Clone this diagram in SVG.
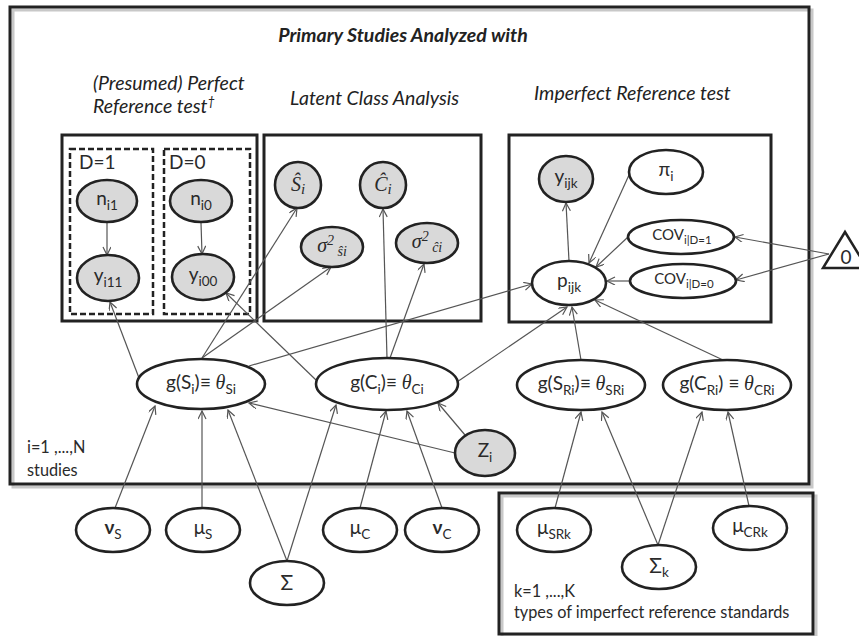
<svg xmlns="http://www.w3.org/2000/svg" width="859" height="636" viewBox="0 0 859 636">
<defs>
<marker id="ah" markerWidth="10" markerHeight="10" refX="9" refY="4" orient="auto" markerUnits="userSpaceOnUse">
<path d="M1,0 L9,4 L1,8" fill="none" stroke="#555" stroke-width="1.2"/>
</marker>
<style>
.box{fill:none;stroke:#222;stroke-width:3}
.shadow{fill:none;stroke:#c8c8c8;stroke-width:3}
.dash{fill:none;stroke:#222;stroke-width:2.5;stroke-dasharray:6,3}
.n{fill:#fff;stroke:#222;stroke-width:2.6}
.g{fill:#d9d9d9;stroke:#222;stroke-width:2.6}
.lbl{font-family:Lato,"Liberation Sans",sans-serif;font-size:19px;fill:#2a2a2a;text-anchor:middle}
.math{font-family:"Liberation Serif",serif;font-style:italic;font-size:20px;fill:#2a2a2a}
.sub{font-size:13.5px}
.head{font-family:Lato,"Liberation Sans",sans-serif;font-size:19.5px;font-style:italic;fill:#222}
.title{font-family:Lato,"Liberation Sans",sans-serif;font-size:19.5px;font-style:italic;font-weight:bold;fill:#222;text-anchor:middle}
.plain{font-family:Lato,"Liberation Sans",sans-serif;font-size:16.3px;fill:#2a2a2a}
.e{fill:none;stroke:#555;stroke-width:1.2;marker-end:url(#ah)}
</style>
</defs>
<rect width="859" height="636" fill="#fff"/>

<!-- plates -->
<g id="plate-studies">
<rect class="shadow" x="13" y="10" width="799" height="477"/>
<rect class="box" x="10" y="7" width="799" height="477" fill="#fff"/>
<text class="title" x="403" y="42">Primary Studies Analyzed with</text>
<text class="plain" x="27" y="453">i=1 ,...,N</text>
<text class="plain" x="27" y="476">studies</text>
</g>
<g id="plate-types">
<rect class="shadow" x="502" y="496" width="314" height="141"/>
<rect class="box" x="499" y="493" width="314" height="141" fill="#fff"/>
<text class="plain" x="514" y="597">k=1 ,...,K</text>
<text class="plain" x="514" y="618">types of imperfect reference standards</text>
</g>
<g id="box-perfect">
<text class="head" x="93" y="90">(Presumed) Perfect</text>
<text class="head" x="93" y="113">Reference test<tspan style="font-size:13px" dy="-7">†</tspan></text>
<rect class="box" x="62" y="135" width="195" height="186"/>
<rect class="dash" x="70" y="149" width="83" height="165"/>
<rect class="dash" x="164" y="149" width="86" height="165"/>
<text class="plain" x="79" y="169" style="font-size:19px">D=1</text>
<text class="plain" x="169" y="169" style="font-size:19px">D=0</text>
</g>
<g id="box-lca">
<text class="head" x="290" y="105">Latent Class Analysis</text>
<rect class="box" x="264" y="135" width="217" height="186"/>
</g>
<g id="box-imperfect">
<text class="head" x="534" y="100">Imperfect Reference test</text>
<rect class="box" x="509" y="135" width="262" height="187"/>
</g>

<!-- connectors -->
<g id="connectors">
<line class="e" x1="107" y1="223" x2="107" y2="255"/>
<line class="e" x1="201" y1="223" x2="202" y2="254"/>
<line class="e" x1="139" y1="378" x2="110" y2="302"/>
<line class="e" x1="202" y1="358" x2="297" y2="208"/>
<line class="e" x1="202" y1="358" x2="331" y2="267"/>
<line class="e" x1="249" y1="366" x2="532" y2="284"/>
<line class="e" x1="316" y1="380" x2="226" y2="293"/>
<line class="e" x1="387" y1="358" x2="383" y2="209"/>
<line class="e" x1="390" y1="358" x2="424" y2="264"/>
<line class="e" x1="457" y1="382" x2="567" y2="307"/>
<line class="e" x1="581" y1="360" x2="572" y2="307"/>
<line class="e" x1="723" y1="360" x2="595" y2="300"/>
<line class="e" x1="569" y1="261" x2="566" y2="203"/>
<line class="e" x1="629" y1="175" x2="589" y2="263"/>
<line class="e" x1="628" y1="237" x2="596" y2="267"/>
<line class="e" x1="629" y1="281" x2="607" y2="281"/>
<line class="e" x1="829" y1="254" x2="735" y2="237"/>
<line class="e" x1="829" y1="254" x2="736" y2="280"/>
<line class="e" x1="465" y1="435" x2="438" y2="403"/>
<line class="e" x1="455" y1="453" x2="249" y2="403"/>
<line class="e" x1="115" y1="508" x2="155" y2="406"/>
<line class="e" x1="202" y1="508" x2="202" y2="411"/>
<line class="e" x1="287" y1="561" x2="228" y2="410"/>
<line class="e" x1="287" y1="561" x2="336" y2="405"/>
<line class="e" x1="360" y1="508" x2="386" y2="411"/>
<line class="e" x1="442" y1="508" x2="407" y2="411"/>
<line class="e" x1="555" y1="508" x2="581" y2="412"/>
<line class="e" x1="658" y1="545" x2="602" y2="412"/>
<line class="e" x1="658" y1="545" x2="702" y2="412"/>
<line class="e" x1="749" y1="506" x2="728" y2="412"/>
</g>

<!-- nodes -->
<g id="n_i1"><ellipse class="g" cx="107" cy="201" rx="30" ry="21"/><text class="lbl" x="107" y="205">n<tspan class="sub" dy="5">i1</tspan></text></g>
<g id="y_i11"><ellipse class="g" cx="108" cy="278" rx="31" ry="23"/><text class="lbl" x="108" y="282">y<tspan class="sub" dy="5">i11</tspan></text></g>
<g id="n_i0"><ellipse class="g" cx="201" cy="201" rx="31" ry="21"/><text class="lbl" x="201" y="205">n<tspan class="sub" dy="5">i0</tspan></text></g>
<g id="y_i00"><ellipse class="g" cx="203" cy="277" rx="31" ry="23"/><text class="lbl" x="203" y="281">y<tspan class="sub" dy="5">i00</tspan></text></g>

<g id="S_hat"><circle class="g" cx="298" cy="185" r="23"/><text class="math" x="298" y="191" text-anchor="middle">Ŝ<tspan style="font-size:15px" dy="3">i</tspan></text></g>
<g id="C_hat"><circle class="g" cx="383" cy="185" r="23"/><text class="math" x="383" y="191" text-anchor="middle">Ĉ<tspan style="font-size:15px" dy="3">i</tspan></text></g>
<g id="sigma2_S"><ellipse class="g" cx="332" cy="247" rx="31" ry="20"/><text class="math" x="332" y="252" text-anchor="middle">σ<tspan style="font-size:14px" dy="-7">2</tspan><tspan style="font-size:14px" dy="11"> ŝi</tspan></text></g>
<g id="sigma2_C"><ellipse class="g" cx="427" cy="243" rx="31" ry="20"/><text class="math" x="427" y="248" text-anchor="middle">σ<tspan style="font-size:14px" dy="-7">2</tspan><tspan style="font-size:14px" dy="11"> ĉi</tspan></text></g>

<g id="y_ijk"><ellipse class="g" cx="566" cy="179" rx="27" ry="23"/><text class="lbl" x="566" y="183">y<tspan class="sub" dy="5">ijk</tspan></text></g>
<g id="pi_i"><ellipse class="n" cx="666" cy="172" rx="37" ry="22"/><text class="lbl" x="666" y="176">π<tspan class="sub" dy="5">i</tspan></text></g>
<g id="cov1"><ellipse class="n" cx="681" cy="237" rx="53" ry="17"/><text class="lbl" x="682" y="240" style="font-size:15px">COV<tspan style="font-size:11.5px" dy="4">i|D=1</tspan></text></g>
<g id="cov0"><ellipse class="n" cx="683" cy="281" rx="53" ry="17"/><text class="lbl" x="684" y="284" style="font-size:15px">COV<tspan style="font-size:11.5px" dy="4">i|D=0</tspan></text></g>
<g id="p_ijk"><ellipse class="n" cx="569" cy="283" rx="37" ry="22"/><text class="lbl" x="569" y="287">p<tspan class="sub" dy="5">ijk</tspan></text></g>
<g id="zero"><polygon points="845,232 823,268 867,268" fill="#fff" stroke="#222" stroke-width="2.5"/><text class="lbl" x="846" y="264">0</text></g>

<g id="g_S"><ellipse class="n" cx="201" cy="384" rx="64" ry="25"/><text class="lbl" x="201" y="389">g(S<tspan class="sub" dy="5">i</tspan><tspan dy="-5">)≡ </tspan><tspan class="math">θ</tspan><tspan class="sub" dy="5">Si</tspan></text></g>
<g id="g_C"><ellipse class="n" cx="387" cy="384" rx="71" ry="26"/><text class="lbl" x="387" y="389">g(C<tspan class="sub" dy="5">i</tspan><tspan dy="-5">)≡ </tspan><tspan class="math">θ</tspan><tspan class="sub" dy="5">Ci</tspan></text></g>
<g id="g_SR"><ellipse class="n" cx="581" cy="385" rx="64" ry="25"/><text class="lbl" x="581" y="390">g(S<tspan class="sub" dy="5">Ri</tspan><tspan dy="-5">)≡ </tspan><tspan class="math">θ</tspan><tspan class="sub" dy="5">SRi</tspan></text></g>
<g id="g_CR"><ellipse class="n" cx="727" cy="385" rx="64" ry="25"/><text class="lbl" x="727" y="390">g(C<tspan class="sub" dy="5">Ri</tspan><tspan dy="-5">) ≡ </tspan><tspan class="math">θ</tspan><tspan class="sub" dy="5">CRi</tspan></text></g>
<g id="Z_i"><ellipse class="g" cx="485" cy="453" rx="30" ry="23"/><text class="lbl" x="485" y="457">Z<tspan class="sub" dy="5">i</tspan></text></g>

<g id="nu_S"><ellipse class="n" cx="113" cy="530" rx="37" ry="22"/><text class="lbl" x="113" y="534"><tspan font-weight="bold">ν</tspan><tspan class="sub" dy="5">S</tspan></text></g>
<g id="mu_S"><ellipse class="n" cx="203" cy="530" rx="37" ry="22"/><text class="lbl" x="203" y="534">μ<tspan class="sub" dy="5">S</tspan></text></g>
<g id="Sigma"><ellipse class="n" cx="287" cy="583" rx="37" ry="22"/><text class="lbl" x="287" y="590" style="font-size:21px">Σ</text></g>
<g id="mu_C"><ellipse class="n" cx="360" cy="530" rx="37" ry="22"/><text class="lbl" x="360" y="534">μ<tspan class="sub" dy="5">C</tspan></text></g>
<g id="nu_C"><ellipse class="n" cx="442" cy="530" rx="37" ry="22"/><text class="lbl" x="442" y="534"><tspan font-weight="bold">ν</tspan><tspan class="sub" dy="5">C</tspan></text></g>
<g id="mu_SRk"><ellipse class="n" cx="554" cy="530" rx="37" ry="22"/><text class="lbl" x="554" y="534">μ<tspan class="sub" dy="5">SRk</tspan></text></g>
<g id="Sigma_k"><ellipse class="n" cx="659" cy="567" rx="37" ry="22"/><text class="lbl" x="659" y="573" style="font-size:21px">Σ<tspan class="sub" dy="4">k</tspan></text></g>
<g id="mu_CRk"><ellipse class="n" cx="750" cy="528" rx="37" ry="22"/><text class="lbl" x="750" y="532">μ<tspan class="sub" dy="5">CRk</tspan></text></g>
</svg>
